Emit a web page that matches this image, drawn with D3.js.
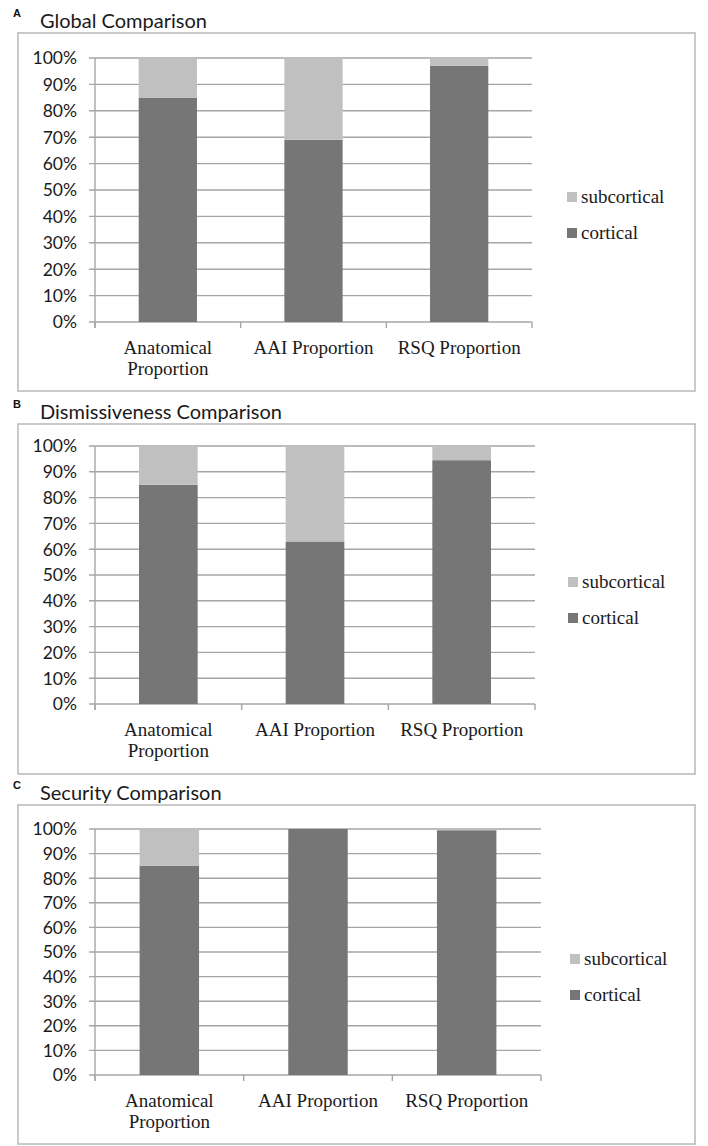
<!DOCTYPE html>
<html>
<head>
<meta charset="utf-8">
<script src="https://cdn.jsdelivr.net/npm/d3@7"></script>
<style>
  html, body { margin: 0; padding: 0; background: #fff; }
  svg { display: block; }
</style>
</head>
<body>
<div id="container"></div>
<script>
// Data
const categories = ["Anatomical Proportion", "AAI Proportion", "RSQ Proportion"];
const categoryLines = [["Anatomical", "Proportion"], ["AAI Proportion"], ["RSQ Proportion"]];
const seriesNames = ["subcortical", "cortical"];
const panelLetters = ["A", "B", "C"];
const panelTitles = ["Global Comparison", "Dismissiveness Comparison", "Security Comparison"];

const corticalGlobal = [85, 69, 97];
const subcorticalGlobal = [15, 31, 3];
const corticalDismissive = [85, 63, 94.5];
const subcorticalDismissive = [15, 37, 5.5];
const corticalSecurity = [85, 100, 99.5];
const subcorticalSecurity = [15, 0, 0.5];

const yTicks = [0, 10, 20, 30, 40, 50, 60, 70, 80, 90, 100];

const panelData = [
  { cortical: corticalGlobal, subcortical: subcorticalGlobal },
  { cortical: corticalDismissive, subcortical: subcorticalDismissive },
  { cortical: corticalSecurity, subcortical: subcorticalSecurity }
];

// Layout of each panel (pixels)
const layout = [
  { boxTop: 33, boxBottom: 391, plotTop: 58, plotBottom: 322, plotRight: 532, legendX: 567 },
  { boxTop: 424, boxBottom: 774, plotTop: 446, plotBottom: 704, plotRight: 535, legendX: 568 },
  { boxTop: 805, boxBottom: 1144, plotTop: 829, plotBottom: 1075, plotRight: 541, legendX: 570 }
];

const colors = { cortical: "#767676", subcortical: "#c0c0c0" };
const gridColor = "#a6a6a6";
const sansFont = "Lato, 'Open Sans', sans-serif";
const serifFont = "'Liberation Serif', 'DejaVu Serif', serif";

const width = 708;
const height = 1146;
const plotLeft = 95;

const svg = d3
  .select("#container")
  .append("svg")
  .attr("width", width)
  .attr("height", height);

layout.forEach((L, i) => {
  const g = svg.append("g");
  const d = panelData[i];

  // Panel letter + title
  g.append("text")
    .attr("x", 13)
    .attr("y", L.boxTop - 16)
    .attr("font-family", "'Liberation Sans', Arial, sans-serif")
    .attr("font-weight", "bold")
    .attr("font-size", 11)
    .attr("fill", "#111")
    .text(panelLetters[i]);

  g.append("text")
    .attr("x", 40)
    .attr("y", L.boxTop - 5)
    .attr("font-family", sansFont)
    .attr("font-size", 20)
    .attr("fill", "#1a1a1a")
    .text(panelTitles[i]);

  // Border box
  g.append("rect")
    .attr("x", 18)
    .attr("y", L.boxTop)
    .attr("width", 695 - 18)
    .attr("height", L.boxBottom - L.boxTop)
    .attr("fill", "none")
    .attr("stroke", "#b8b8b8")
    .attr("stroke-width", 1.5);

  const x = d3
    .scaleBand()
    .domain(categories)
    .range([plotLeft, L.plotRight])
    .paddingInner(0.6)
    .paddingOuter(0.3);

  const y = d3.scaleLinear().domain([0, 100]).range([L.plotBottom, L.plotTop]);

  // Gridlines
  g.append("g")
    .selectAll("line")
    .data(yTicks)
    .enter()
    .append("line")
    .attr("x1", plotLeft - 6)
    .attr("x2", L.plotRight)
    .attr("y1", (t) => y(t))
    .attr("y2", (t) => y(t))
    .attr("stroke", gridColor)
    .attr("stroke-width", 1.4);

  // Y axis line
  g.append("line")
    .attr("x1", plotLeft)
    .attr("x2", plotLeft)
    .attr("y1", L.plotTop)
    .attr("y2", L.plotBottom + 6)
    .attr("stroke", gridColor)
    .attr("stroke-width", 1.4);

  // Y tick labels
  g.append("g")
    .selectAll("text")
    .data(yTicks)
    .enter()
    .append("text")
    .attr("x", 77)
    .attr("y", (t) => y(t))
    .attr("dy", "0.36em")
    .attr("text-anchor", "end")
    .attr("font-family", sansFont)
    .attr("font-size", 17.5)
    .attr("fill", "#1a1a1a")
    .text((t) => t + "%");

  // Category boundary ticks below the axis
  const bounds = [0, 1, 2, 3].map((k) => plotLeft + k * (L.plotRight - plotLeft) / 3);
  g.append("g")
    .selectAll("line")
    .data(bounds)
    .enter()
    .append("line")
    .attr("x1", (b) => b)
    .attr("x2", (b) => b)
    .attr("y1", L.plotBottom)
    .attr("y2", L.plotBottom + 6)
    .attr("stroke", gridColor)
    .attr("stroke-width", 1.4);

  // Stacked bars
  const rows = categories.map((c, k) => ({
    category: c,
    cortical: d.cortical[k],
    subcortical: d.subcortical[k]
  }));
  const stack = d3.stack().keys(["cortical", "subcortical"])(rows);

  g.append("g")
    .selectAll("g")
    .data(stack)
    .enter()
    .append("g")
    .attr("fill", (s) => colors[s.key])
    .selectAll("rect")
    .data((s) => s)
    .enter()
    .append("rect")
    .attr("x", (p) => x(p.data.category))
    .attr("width", x.bandwidth())
    .attr("y", (p) => y(p[1]))
    .attr("height", (p) => y(p[0]) - y(p[1]));

  // Category labels
  const lab = g
    .append("g")
    .selectAll("text")
    .data(categories)
    .enter()
    .append("text")
    .attr("x", (c) => x(c) + x.bandwidth() / 2)
    .attr("y", L.plotBottom + 32)
    .attr("text-anchor", "middle")
    .attr("font-family", serifFont)
    .attr("font-size", 19)
    .attr("fill", "#1a1a1a");
  lab
    .selectAll("tspan")
    .data((c, k) => categoryLines[k])
    .enter()
    .append("tspan")
    .attr("x", function () {
      return d3.select(this.parentNode).attr("x");
    })
    .attr("dy", (t, j) => (j === 0 ? 0 : 21))
    .text((t) => t);

  // Legend
  const mid = (L.plotTop + L.plotBottom) / 2;
  const leg = g
    .append("g")
    .selectAll("g")
    .data(seriesNames)
    .enter()
    .append("g")
    .attr("transform", (s, k) => "translate(" + L.legendX + "," + (mid + 7 + k * 36) + ")");
  leg
    .append("rect")
    .attr("x", 0)
    .attr("y", -5)
    .attr("width", 10)
    .attr("height", 10)
    .attr("fill", (s) => colors[s]);
  leg
    .append("text")
    .attr("x", 14)
    .attr("y", 6)
    .attr("font-family", serifFont)
    .attr("font-size", 19)
    .attr("fill", "#1a1a1a")
    .text((s) => s);
});
</script>
</body>
</html>
